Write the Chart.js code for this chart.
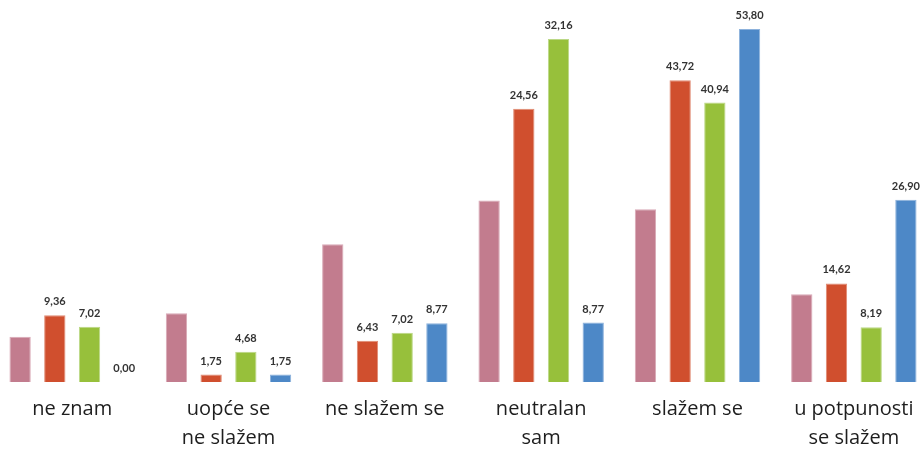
<!DOCTYPE html>
<html>
<head>
<meta charset="utf-8">
<script src="https://cdn.jsdelivr.net/npm/chart.js@4.4.1/dist/chart.umd.min.js"></script>
<style>
  html, body { margin: 0; padding: 0; background: #fff; overflow: hidden; }
  #wrap { position: absolute; left: -6px; top: 0; width: 938px; height: 454px; }
</style>
</head>
<body>
<div id="wrap"><canvas id="c"></canvas></div>
<script>
// Categories (answers)
const categories = [
  ["ne znam"],
  ["uopće se", "ne slažem"],
  ["ne slažem se"],
  ["neutralan", "sam"],
  ["slažem se"],
  ["u potpunosti", "se slažem"]
];

// Series values
const seriesPink  = [6.7, 10.2, 20.4, 26.9, 25.6, 13.0];
const seriesRed   = [9.9, 1.1, 6.1, 40.5, 44.7, 14.6];
const seriesGreen = [8.2, 4.5, 7.3, 50.8, 41.4, 8.1];
const seriesBlue  = [0.0, 1.1, 8.7, 8.8, 52.3, 27.0];

// Printed data labels as they appear on the chart (pink series has none)
const labelsPink  = [null, null, null, null, null, null];
const labelsRed   = ["9,36", "1,75", "6,43", "24,56", "43,72", "14,62"];
const labelsGreen = ["7,02", "4,68", "7,02", "32,16", "40,94", "8,19"];
const labelsBlue  = ["0,00", "1,75", "8,77", "8,77", "53,80", "26,90"];

const seriesNames = ["Serija 1", "Serija 2", "Serija 3", "Serija 4"];

const colors  = ["#C27C8E", "#D04F2E", "#97C03B", "#4D88C7"];
const borders = ["#D9A9B6", "#E08A73", "#BBD886", "#8DB2DC"];

const allValues = [seriesPink, seriesRed, seriesGreen, seriesBlue];
const allLabels = [labelsPink, labelsRed, labelsGreen, labelsBlue];

const datasets = allValues.map((vals, i) => ({
  label: seriesNames[i],
  data: vals,
  backgroundColor: colors[i],
  borderColor: borders[i],
  borderWidth: 1,
  categoryPercentage: 0.888,
  barPercentage: 0.614
}));

const valueLabelPlugin = {
  id: 'valueLabels',
  afterDatasetsDraw(chart) {
    const ctx = chart.ctx;
    ctx.save();
    ctx.font = "bold 11px Lato";
    ctx.fillStyle = "#333333";
    ctx.textAlign = "center";
    ctx.textBaseline = "alphabetic";
    chart.data.datasets.forEach((ds, di) => {
      const meta = chart.getDatasetMeta(di);
      meta.data.forEach((bar, idx) => {
        const txt = allLabels[di][idx];
        if (txt == null) return;
        ctx.fillText(txt, bar.x, bar.y - 10);
      });
    });
    ctx.restore();
  }
};

new Chart(document.getElementById('c'), {
  type: 'bar',
  data: { labels: categories, datasets: datasets },
  plugins: [valueLabelPlugin],
  options: {
    responsive: true,
    maintainAspectRatio: false,
    animation: false,
    layout: { padding: { top: 4, left: 0, right: 0, bottom: 0 } },
    plugins: {
      legend: { display: false },
      tooltip: { enabled: false }
    },
    scales: {
      x: {
        grid: { display: false, drawTicks: false },
        border: { display: false },
        ticks: {
          color: "#1e1e1e",
          font: { family: "Open Sans", size: 20, weight: 500, lineHeight: 1.45 },
          padding: 13,
          maxRotation: 0,
          autoSkip: false
        },
        afterFit(scale) { scale.height = 72; }
      },
      y: {
        display: false,
        min: 0,
        max: 56
      }
    }
  }
});
</script>
</body>
</html>
